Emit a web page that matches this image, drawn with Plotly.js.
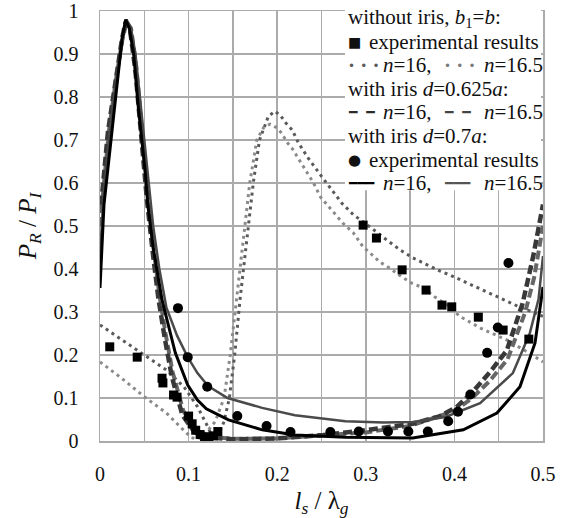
<!DOCTYPE html>
<html>
<head>
<meta charset="utf-8">
<script src="https://cdn.plot.ly/plotly-3.0.1.min.js"></script>
<style>html,body{margin:0;padding:0;background:#fff;}#chart{width:581px;height:518px;}</style>
</head>
<body>
<div id="chart"></div>
<script>
// ---- data ----
// without iris, b1=b : theory n=16 (dotted, darker)
const noIris16X = [0,0.025,0.05,0.075,0.095,0.11,0.12,0.128,0.135,0.14,0.146,0.152,0.158,0.165,0.173,0.18,0.19,0.1975,0.204,0.21,0.217,0.224,0.235,0.252,0.273,0.286,0.299,0.324,0.339,0.353,0.369,0.384,0.395,0.42,0.44,0.47,0.5];
const noIris16Y = [0.27,0.235,0.2,0.165,0.125,0.08,0.04,0.005,0.02,0.045,0.1,0.2,0.328,0.46,0.6,0.7,0.755,0.767,0.756,0.739,0.723,0.693,0.658,0.61,0.553,0.526,0.507,0.467,0.444,0.426,0.409,0.395,0.386,0.362,0.344,0.315,0.29];
// without iris : theory n=16.5 (dotted, lighter)
const noIris165X = [0,0.025,0.05,0.075,0.094,0.103,0.11,0.12,0.13,0.14,0.147,0.154,0.162,0.169,0.177,0.185,0.192,0.2,0.205,0.211,0.217,0.226,0.234,0.241,0.249,0.274,0.286,0.297,0.305,0.316,0.327,0.341,0.352,0.365,0.378,0.392,0.406,0.43,0.459,0.48,0.5];
const noIris165Y = [0.184,0.145,0.103,0.065,0.026,0.008,0.004,0.02,0.045,0.1,0.2,0.33,0.47,0.6,0.7,0.73,0.737,0.728,0.716,0.695,0.68,0.649,0.623,0.6,0.567,0.507,0.484,0.451,0.437,0.416,0.402,0.381,0.367,0.356,0.335,0.316,0.29,0.262,0.235,0.21,0.184];
// with iris d=0.625a : theory n=16 (dashed)
const iris625n16X = [0,0.002,0.009,0.017,0.025,0.029,0.034,0.04,0.047,0.053,0.06,0.066,0.073,0.081,0.093,0.107,0.125,0.15,0.2,0.252,0.3,0.353,0.384,0.403,0.421,0.44,0.459,0.477,0.489,0.5];
const iris625n16Y = [0.55,0.565,0.72,0.835,0.937,0.975,0.955,0.86,0.7,0.56,0.43,0.33,0.24,0.15,0.06,0.02,0.008,0.004,0.006,0.014,0.025,0.04,0.058,0.08,0.115,0.16,0.21,0.32,0.43,0.55];
// with iris d=0.625a : theory n=16.5 (dashed, lighter)
const iris625n165X = [0,0.003,0.01,0.018,0.025,0.03,0.035,0.041,0.048,0.054,0.061,0.067,0.074,0.082,0.094,0.108,0.125,0.15,0.2,0.25,0.3,0.35,0.4,0.42,0.44,0.46,0.48,0.49,0.5];
const iris625n165Y = [0.5,0.56,0.72,0.84,0.93,0.975,0.96,0.87,0.71,0.57,0.44,0.34,0.25,0.16,0.07,0.025,0.01,0.005,0.006,0.012,0.02,0.035,0.07,0.1,0.14,0.19,0.3,0.38,0.5];
// with iris d=0.7a : theory n=16 (solid black)
const iris07n16X = [0,0.0045,0.0135,0.02,0.025,0.029,0.033,0.038,0.043,0.051,0.054,0.06,0.07,0.085,0.099,0.11,0.12,0.145,0.183,0.22,0.277,0.353,0.41,0.448,0.474,0.491,0.5];
const iris07n16Y = [0.356,0.55,0.72,0.835,0.937,0.98,0.96,0.9,0.781,0.626,0.549,0.45,0.328,0.205,0.13,0.095,0.075,0.049,0.026,0.014,0.009,0.007,0.026,0.065,0.126,0.228,0.358];
// with iris d=0.7a : theory n=16.5 (solid gray)
const iris07n165X = [0,0.004,0.012,0.02,0.026,0.03,0.035,0.04,0.046,0.053,0.06,0.067,0.075,0.087,0.099,0.11,0.122,0.144,0.183,0.22,0.277,0.32,0.353,0.39,0.429,0.466,0.485,0.495,0.5];
const iris07n165Y = [0.43,0.57,0.74,0.86,0.95,0.98,0.96,0.9,0.78,0.64,0.5,0.4,0.31,0.245,0.195,0.158,0.128,0.1,0.077,0.06,0.046,0.043,0.044,0.056,0.088,0.158,0.25,0.33,0.43];
// experimental results, without iris (squares)
const expNoIrisX = [0.011,0.042,0.07,0.071,0.083,0.087,0.1,0.104,0.108,0.113,0.118,0.123,0.128,0.133,0.297,0.312,0.341,0.368,0.386,0.397,0.427,0.455,0.484];
const expNoIrisY = [0.219,0.195,0.146,0.135,0.107,0.102,0.058,0.04,0.025,0.015,0.01,0.008,0.012,0.022,0.502,0.472,0.398,0.351,0.316,0.312,0.288,0.258,0.237];
// experimental results, with iris d=0.7a (circles)
const expIrisX = [0.088,0.099,0.121,0.155,0.188,0.215,0.26,0.292,0.325,0.348,0.37,0.393,0.404,0.418,0.437,0.449,0.461];
const expIrisY = [0.309,0.195,0.126,0.058,0.035,0.021,0.021,0.022,0.022,0.022,0.022,0.046,0.068,0.108,0.205,0.264,0.414];
// ticks
const xTickVals = [0,0.1,0.2,0.3,0.4,0.5];
const xTickText = ["0","0.1","0.2","0.3","0.4","0.5"];
const yTickVals = [0,0.1,0.2,0.3,0.4,0.5,0.6,0.7,0.8,0.9,1];
const yTickText = ["0","0.1","0.2","0.3","0.4","0.5","0.6","0.7","0.8","0.9","1"];

const serif = "Liberation Serif";
const NB = "\u00a0";
const traces = [
  {x: noIris16X, y: noIris16Y, mode:'lines', line:{color:'#5a5a5a', width:3, dash:'3px,4px'}},
  {x: noIris165X, y: noIris165Y, mode:'lines', line:{color:'#8a8a8a', width:3, dash:'3px,4px'}},
  {x: iris625n165X, y: iris625n165Y, mode:'lines', line:{color:'#666666', width:4, dash:'9px,4px'}},
  {x: iris625n16X, y: iris625n16Y, mode:'lines', line:{color:'#383838', width:4.5, dash:'9px,4px'}},
  {x: iris07n165X, y: iris07n165Y, mode:'lines', line:{color:'#4a4a4a', width:2.5}},
  {x: iris07n16X, y: iris07n16Y, mode:'lines', line:{color:'#000000', width:3}},
  {x: expNoIrisX, y: expNoIrisY, mode:'markers', marker:{symbol:'square', size:9, color:'#000'}},
  {x: expIrisX, y: expIrisY, mode:'markers', marker:{symbol:'circle', size:10, color:'#000'}}
];

// legend built from text pieces: [text, column, row]
const dots = (c)=>'<b><span style="color:'+c+'">·'+NB+'·'+NB+'·</span></b>';
const dashes = (c)=>'<span style="font-family:DejaVu Sans;font-size:14px;color:'+c+'">━'+NB+NB+'━</span>';
const solid = (c)=>'<span style="font-family:DejaVu Sans;font-size:14px;color:'+c+'">━━━</span>';
const rowY = [0.984,0.929,0.874,0.819,0.764,0.709,0.654,0.599];
const colX = {a:0.5576, b:0.605, c:0.6366, d:0.7743, e:0.8646};
const legendPieces = [
  ['without iris, <i>b</i><sub>1</sub>=<i>b</i>:', 'a', 0],
  ['<span style="font-family:DejaVu Sans;font-size:14px">■</span>', 'a', 1],
  ['experimental results', 'b', 1],
  [dots('#5a5a5a'), 'a', 2], ['<i>n</i>=16,', 'c', 2], [dots('#7a7a7a'), 'd', 2], ['<i>n</i>=16.5', 'e', 2],
  ['with iris <i>d</i>=0.625<i>a</i>:', 'a', 3],
  [dashes('#2a2a2a'), 'a', 4], ['<i>n</i>=16,', 'c', 4], [dashes('#444'), 'd', 4], ['<i>n</i>=16.5', 'e', 4],
  ['with iris <i>d</i>=0.7<i>a</i>:', 'a', 5],
  ['<span style="font-family:DejaVu Sans;font-size:15px">●</span>', 'a', 6],
  ['experimental results', 'b', 6],
  [solid('#000'), 'a', 7], ['<i>n</i>=16,', 'c', 7], [solid('#555'), 'd', 7], ['<i>n</i>=16.5', 'e', 7]
];
const annotations = legendPieces.map(p=>({
  text:p[0], xref:'paper', yref:'paper', x:colX[p[1]], y:rowY[p[2]], xanchor:'left', yanchor:'middle',
  showarrow:false, borderpad:0, font:{family:serif, size:21, color:'#111'}
}));

const layout = {
  width:581, height:518,
  margin:{l:100, r:38, t:11, b:77},
  paper_bgcolor:'#fff', plot_bgcolor:'#fff',
  showlegend:false,
  font:{family:serif, color:'#111'},
  xaxis:{range:[0,0.5], tickvals:xTickVals, ticktext:xTickText, showgrid:true, gridcolor:'#ababab', gridwidth:1.5,
    minor:{dtick:0.05, tick0:0, showgrid:true, gridcolor:'#ababab', gridwidth:1.5},
    showline:true, mirror:true, linecolor:'#ababab', linewidth:1.5, zeroline:false,
    ticks:'outside', ticklen:14, tickcolor:'rgba(0,0,0,0)', tickfont:{family:serif, size:20, color:'#111'},
    title:{text:'<i>l<sub>s</sub></i> / λ<sub><i>g</i></sub>', font:{family:serif, size:25, color:'#111'}, standoff:19}},
  yaxis:{range:[0,1], tickvals:yTickVals, ticktext:yTickText, showgrid:true, gridcolor:'#ababab', gridwidth:1.5,
    showline:true, mirror:true, linecolor:'#ababab', linewidth:1.5, zeroline:false,
    ticks:'outside', ticklen:16, tickcolor:'rgba(0,0,0,0)', tickfont:{family:serif, size:20, color:'#111'},
    title:{text:'<i>P<sub>R</sub></i> / <i>P<sub>I</sub></i>', font:{family:serif, size:25, color:'#111'}, standoff:10}},
  shapes:[{type:'rect', xref:'paper', yref:'paper', x0:0.553, x1:0.9955, y0:0.583, y1:1.02, fillcolor:'#fff', line:{width:0}, layer:'above'}],
  annotations:annotations
};
Plotly.newPlot('chart', traces, layout, {displayModeBar:false, staticPlot:true});
</script>
</body>
</html>
